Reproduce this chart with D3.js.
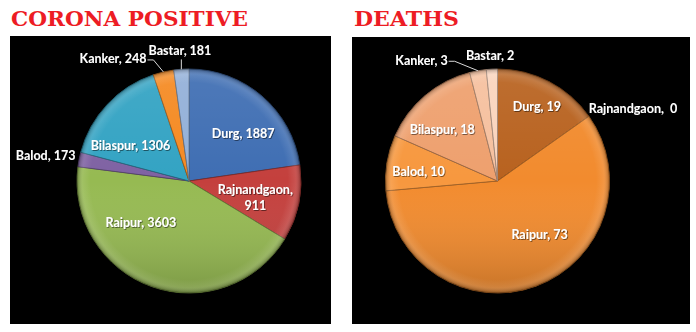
<!DOCTYPE html>
<html>
<head>
  <title>Corona positive and deaths</title>
  <script src="https://d3js.org/d3.v7.min.js"></script>
  <style>body { margin: 0; background: #fff; }</style>
</head>
<body>
  <svg id="chart"></svg>

  <script>
    // Data
    const districts = ["Durg", "Rajnandgaon", "Raipur", "Balod", "Bilaspur", "Kanker", "Bastar"];
    const positive = [1887, 911, 3603, 173, 1306, 248, 181];
    const deaths = [19, 0, 73, 10, 18, 3, 2];

    // Colours
    const positiveColors = ["#3f6eb3", "#c4403d", "#96ba52", "#7f62a3", "#33a3c3", "#f58a22", "#93b0d8"];
    const deathColors = ["#b8621f", "#f79646", "#f28b2e", "#f7983f", "#eea06e", "#f6c09e", "#fad4bd"];

    // Label placement (angle in degrees from 12 o'clock, radius as fraction of pie radius)
    const positiveLabelAngle = [49, 104, 229, 280, 301, 328, 356];
    const positiveLabelRadius = [0.64, 0.61, 0.57, 1.30, 0.61, 1.28, 1.16];
    const deathLabelAngle = [28, 62, 142, 276.5, 312.6, 327.7, 356.6];
    const deathLabelRadius = [0.75, 1.37, 0.61, 0.71, 0.67, 1.27, 1.12];

    const W = 696, H = 332, R = 112;

    const svg = d3.select("#chart").attr("width", W).attr("height", H)
      .style("font-family", "Lato, 'Open Sans', sans-serif");

    const defs = svg.append("defs");

    // lys foroven, mørkere forneden
    const vshade = defs.append("linearGradient").attr("id", "vshade")
      .attr("x1", 0).attr("y1", 0).attr("x2", 0).attr("y2", 1);
    vshade.append("stop").attr("offset", "0%").attr("stop-color", "#fff").attr("stop-opacity", 0.08);
    vshade.append("stop").attr("offset", "50%").attr("stop-color", "#fff").attr("stop-opacity", 0);
    vshade.append("stop").attr("offset", "100%").attr("stop-color", "#000").attr("stop-opacity", 0.18);

    // kant (bevel)
    const rim = defs.append("radialGradient").attr("id", "rim")
      .attr("cx", "50%").attr("cy", "50%").attr("r", "50%");
    rim.append("stop").attr("offset", "0%").attr("stop-color", "#fff").attr("stop-opacity", 0);
    rim.append("stop").attr("offset", "88%").attr("stop-color", "#fff").attr("stop-opacity", 0);
    rim.append("stop").attr("offset", "95%").attr("stop-color", "#fff").attr("stop-opacity", 0.1);
    rim.append("stop").attr("offset", "100%").attr("stop-color", "#000").attr("stop-opacity", 0.3);

    const shadow = defs.append("filter").attr("id", "txtshadow")
      .attr("x", "-10%").attr("y", "-30%").attr("width", "120%").attr("height", "160%");
    shadow.append("feDropShadow").attr("dx", 0.8).attr("dy", 0.8).attr("stdDeviation", 0.5)
      .attr("flood-color", "#000").attr("flood-opacity", 0.6);

    function drawPanel(opt) {
      // Titel
      svg.append("text")
        .attr("x", opt.titleX).attr("y", 26)
        .attr("textLength", opt.titleLen).attr("lengthAdjust", "spacingAndGlyphs")
        .style("font-family", "'DejaVu Serif', serif").style("font-weight", "bold")
        .style("font-size", "21px").attr("fill", "#ed1c24")
        .text(opt.title);

      // Sort baggrund
      svg.append("rect")
        .attr("x", opt.x0).attr("y", opt.y0)
        .attr("width", opt.x1 - opt.x0).attr("height", opt.y1 - opt.y0)
        .attr("fill", "#000");

      const g = svg.append("g").attr("transform", `translate(${opt.cx},${opt.cy})`);

      const rows = districts.map((d, i) => ({ name: d, value: opt.values[i], i }));
      const pie = d3.pie().sort(null).value(d => d.value);
      const arc = d3.arc().innerRadius(0).outerRadius(R);
      const arcs = pie(rows);

      g.selectAll("path.slice")
        .data(arcs)
        .enter()
        .append("path")
        .attr("class", "slice")
        .attr("d", arc)
        .attr("fill", d => opt.colors[d.data.i])
        .attr("stroke", d => d3.color(opt.colors[d.data.i]).darker(1.3))
        .attr("stroke-width", 0.8)
        .attr("stroke-linejoin", "round");

      g.append("circle").attr("r", R).attr("fill", "url(#vshade)").attr("pointer-events", "none");
      g.append("circle").attr("r", R).attr("fill", "url(#rim)").attr("pointer-events", "none");

      // Labels
      const rad = Math.PI / 180;
      const polar = (a, r) => [r * Math.sin(a * rad), -r * Math.cos(a * rad)];

      arcs.forEach(d => {
        const i = d.data.i;
        const [lx, ly] = polar(opt.labelAngle[i], opt.labelRadius[i] * R);
        const sep = d.data.value === 0 ? ",  " : ", ";
        const t = g.append("text")
          .attr("text-anchor", "middle")
          .attr("fill", "#fff")
          .style("white-space", "pre")
          .style("font-size", "12.5px").style("font-weight", "bold")
          .attr("filter", "url(#txtshadow)");
        if (opt.wrap.includes(i)) {
          t.append("tspan").attr("x", lx).attr("y", ly - 4).text(d.data.name + ",");
          t.append("tspan").attr("x", lx).attr("y", ly + 12).text(d.data.value);
        } else {
          t.attr("x", lx).attr("y", ly + 4).text(d.data.name + sep + d.data.value);
        }

        // Ledelinjer
        if (opt.leaders.includes(i)) {
          const mid = (d.startAngle + d.endAngle) / 2 / rad;
          const [ex, ey] = polar(mid, R);
          const bb = t.node().getBBox();
          let pts;
          if (bb.x + bb.width < ex - 4) {
            const yy = bb.y + bb.height / 2 + 1;
            pts = [[ex, ey], [bb.x + bb.width + 7, yy], [bb.x + bb.width + 1, yy]];
          } else {
            pts = [[ex, ey], [ex, bb.y + bb.height + 1]];
          }
          g.append("path")
            .attr("d", d3.line()(pts))
            .attr("fill", "none")
            .attr("stroke", "#d9d9d9")
            .attr("stroke-width", 1);
        }
      });
    }

    drawPanel({
      title: "CORONA POSITIVE", titleX: 11, titleLen: 237,
      x0: 10, y0: 36, x1: 331, y1: 324,
      cx: 189, cy: 181,
      values: positive, colors: positiveColors,
      labelAngle: positiveLabelAngle, labelRadius: positiveLabelRadius,
      wrap: [1], leaders: [5, 6]
    });

    drawPanel({
      title: "DEATHS", titleX: 354, titleLen: 105,
      x0: 352, y0: 37, x1: 690, y1: 324,
      cx: 497.5, cy: 181,
      values: deaths, colors: deathColors,
      labelAngle: deathLabelAngle, labelRadius: deathLabelRadius,
      wrap: [], leaders: [5]
    });
  </script>
</body>
</html>
